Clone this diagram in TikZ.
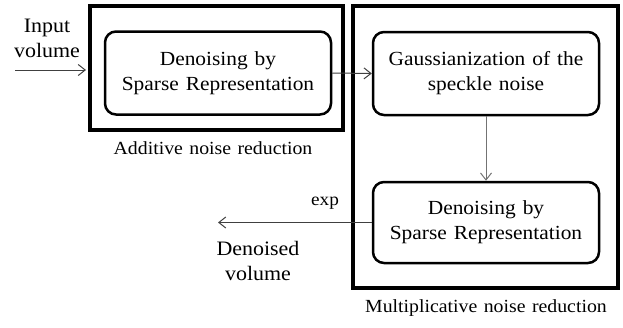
\documentclass[tikz,border=0pt]{standalone}
\usepackage{fontspec}
\setmainfont[FakeStretch=1.07,WordSpace=1.3]{Liberation Serif}
\usetikzlibrary{arrows.meta, positioning}

\begin{document}
\begin{tikzpicture}[x=1pt,y=-1pt]

\tikzset{stage/.style = {shape=rectangle,draw,line width=2.5pt,rounded corners=11pt,minimum width=226pt,align=center,font=\fontsize{20}{25}\selectfont}}
\tikzset{group/.style = {shape=rectangle,draw,line width=4pt,inner sep=0pt}}
\tikzset{lbl/.style = {align=center,font=\fontsize{18.5}{25}\selectfont}}
\tikzset{io/.style = {align=center,font=\fontsize{20.5}{25}\selectfont}}
\tikzset{flow/.style = {->,>={Straight Barb[length=7pt,width=11pt]},line width=1pt,draw=black!75}}
\useasboundingbox (0,0) rectangle (623,327);

% groups
\node[group,minimum width=253pt,minimum height=124pt] (add) at (216.5,68) {};
\node[group,minimum width=265pt,minimum height=282pt] (mult) at (485.5,147) {};
\node[lbl] (addlbl) at (213,148) {Additive noise reduction};
\node[lbl] (multlbl) at (486,308) {Multiplicative noise reduction};

% stages
\node[stage,minimum height=83pt] (den1) at (218,73) {Denoising by\\Sparse Representation};
\node[stage,minimum height=83pt] (gauss) at (486,73.5) {Gaussianization of the\\speckle noise};
\node[stage,minimum height=81pt] (den2) at (486,222.5) {Denoising by\\Sparse Representation};

% input / output
\coordinate (in) at (15,70);
\coordinate (out) at (218,222.5);
\node[io] (inlbl) at (47,38) {Input\\volume};
\node[io] (outlbl) at (258,261) {Denoised\\volume};
\node[lbl,font=\fontsize{18}{22}\selectfont] (explbl) at (325,203) {exp};

%edges
\draw[flow,shorten >=2pt] (in) -- (add.west |- in);
\draw[flow] (den1.east) -- (gauss.west);
\draw[flow,draw=black!55] (gauss.south) -- (den2.north);
\draw[flow] (den2.west) -- (out);

\end{tikzpicture}
\end{document}
